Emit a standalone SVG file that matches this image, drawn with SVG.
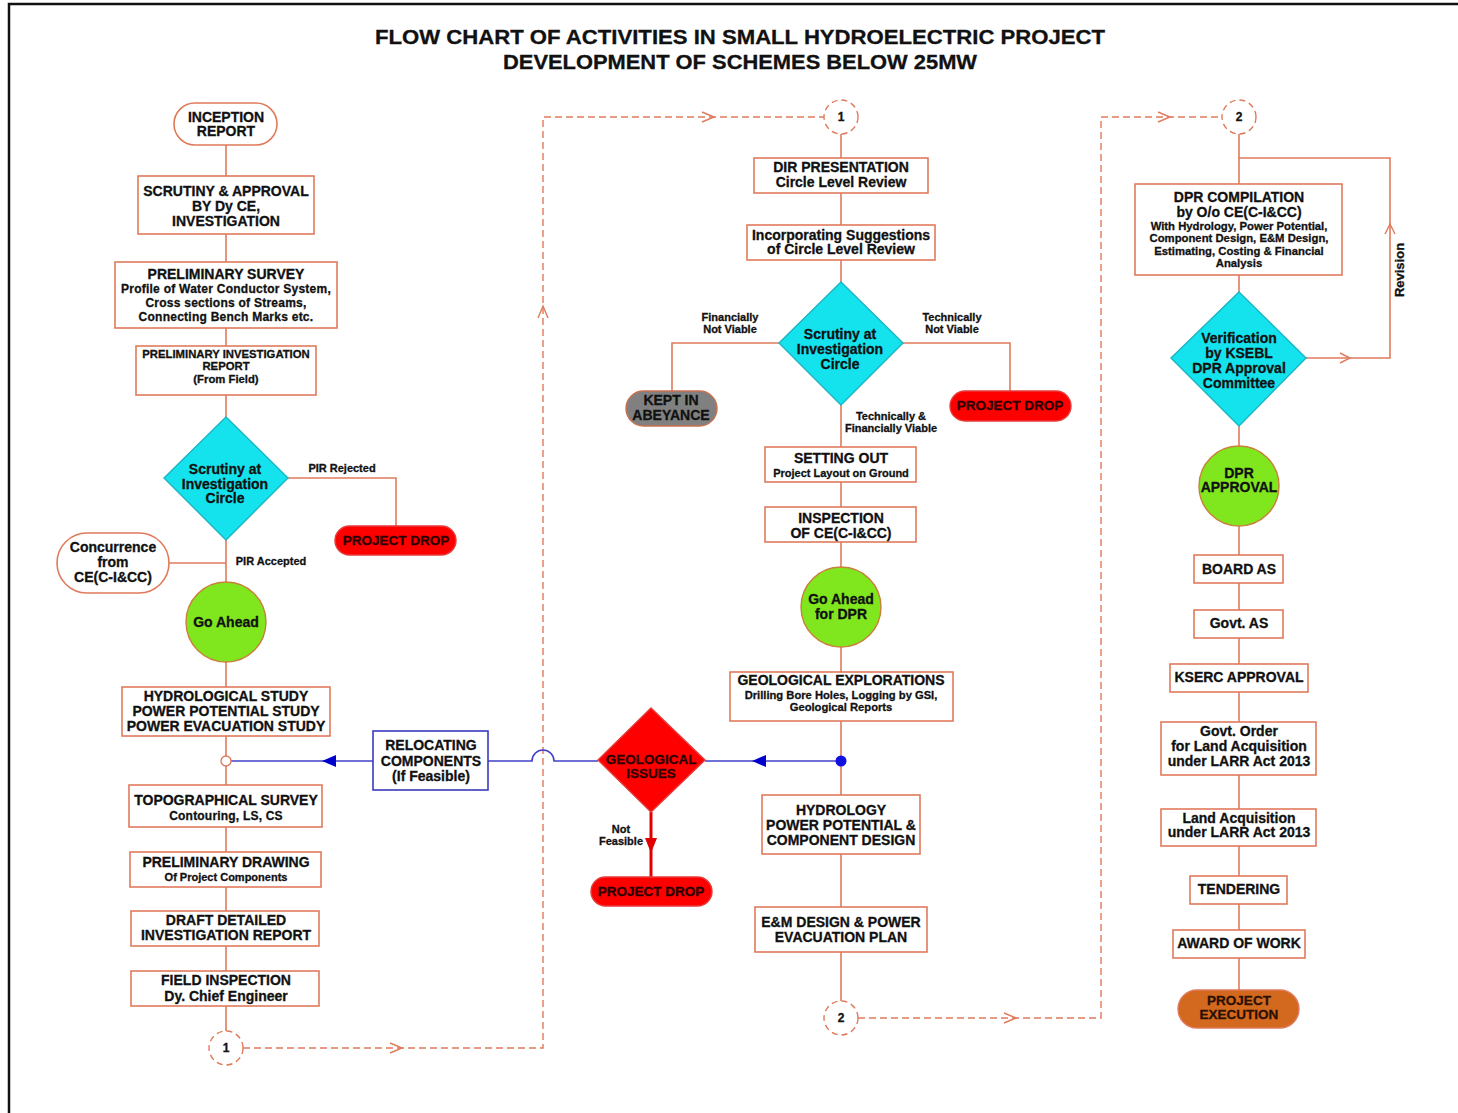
<svg xmlns="http://www.w3.org/2000/svg" width="1458" height="1113" viewBox="0 0 1458 1113">
<defs>
<style>
.t{font-family:"Liberation Sans",Arial,sans-serif;font-weight:bold;text-anchor:middle;fill:#111;stroke:#111;stroke-width:0.3}
.f14{font-size:14px}.f13{font-size:13.5px}.fd{font-size:14px}.f11{font-size:11px}.f10{font-size:10.5px}.f12{font-size:12px}
.box{fill:#fff;stroke:#E07A5C;stroke-width:1.6}
.bbox{fill:#fff;stroke:#3A3AC0;stroke-width:1.6}
.ln{fill:none;stroke:#E07A5C;stroke-width:1.6}
.dash{fill:none;stroke:#E07A5C;stroke-width:1.4;stroke-dasharray:7 4}
.chev{fill:none;stroke:#E07A5C;stroke-width:1.4}
.blue{fill:none;stroke:#4040C8;stroke-width:1.6}
.dia{fill:#14E3EE;stroke:#1BB5C4;stroke-width:1.4}
.grn{fill:#80E61E;stroke:#C8803A;stroke-width:1.4}
.red{fill:#FF0000;stroke:#E83A3A;stroke-width:1.4}
.conn{fill:#fff;stroke:#E07A5C;stroke-width:1.4;stroke-dasharray:6 4}
.dk{fill:#2A0000;stroke:#2A0000}
</style>
</defs>
<rect x="0" y="0" width="1458" height="1113" fill="#fff"/>
<path d="M9,1113 V4 H1458" fill="none" stroke="#111" stroke-width="2.5"/>

<g id="title">
<text class="t" x="740" y="44" font-size="21" stroke-width="0.5" textLength="730" lengthAdjust="spacingAndGlyphs">FLOW CHART OF ACTIVITIES IN SMALL HYDROELECTRIC PROJECT</text>
<text class="t" x="740" y="69" font-size="21" stroke-width="0.5" textLength="474" lengthAdjust="spacingAndGlyphs">DEVELOPMENT OF SCHEMES BELOW 25MW</text>
</g>

<g id="connectors">
<!-- left column -->
<path class="ln" d="M226,145V176 M226,234V262 M226,328V346 M226,395V417 M226,540V582 M226,662V687 M226,736V756 M226,766V785 M226,827V852 M226,887V911 M226,946V971 M226,1006V1031"/>
<path class="ln" d="M288,478H396V526"/>
<path class="ln" d="M169,563H226"/>
<!-- middle column -->
<path class="ln" d="M841,134V158 M841,193V225 M841,260V282 M841,405V447 M841,482V507 M841,542V567 M841,647V672 M841,721V795 M841,854V907 M841,952V1001"/>
<path class="ln" d="M779,343H672V391"/>
<path class="ln" d="M903,343H1010V391"/>
<!-- right column -->
<path class="ln" d="M1239,134V184 M1239,275V292 M1239,426V446 M1239,526V555 M1239,583V610 M1239,638V664 M1239,692V722 M1239,775V809 M1239,846V876 M1239,904V930 M1239,958V990"/>
<path class="ln" d="M1306,358H1390V158H1239"/>
<path class="chev" d="M1340,353L1350,358L1340,363"/>
<path class="chev" d="M1385,234L1390,224L1395,234"/>
<text class="t" font-size="13" x="1404" y="270" transform="rotate(-90 1404 270)">Revision</text>
<!-- dashed off-page links -->
<path class="dash" d="M243,1048H543V117H824"/>
<path class="chev" d="M390,1043L402,1048L390,1053"/>
<path class="chev" d="M538,318L543,306L548,318"/>
<path class="chev" d="M702,112L714,117L702,122"/>
<path class="dash" d="M858,1018H1101V117H1222"/>
<path class="chev" d="M1004,1013L1016,1018L1004,1023"/>
<path class="chev" d="M1158,112L1170,117L1158,122"/>
<!-- blue geological issue path -->
<path class="blue" d="M231,761H373"/>
<polygon points="322,761 336,755 336,767" fill="#0000CC"/>
<path class="blue" d="M488,761H532A11,11 0 0 1 554,761H598"/>
<path class="blue" d="M705,761H836"/>
<polygon points="752,761 766,755 766,767" fill="#0000CC"/>
<path d="M651,812V877" fill="none" stroke="#E00000" stroke-width="3"/>
<polygon points="651,853 645,838 657,838" fill="#E00000"/>
<!-- labels -->
<text class="t f11" x="342" y="472">PIR Rejected</text>
<text class="t f11" x="271" y="565">PIR Accepted</text>
<text class="t f11" x="730" y="321">Financially</text>
<text class="t f11" x="730" y="333">Not Viable</text>
<text class="t f11" x="952" y="321">Technically</text>
<text class="t f11" x="952" y="333">Not Viable</text>
<text class="t f11" x="891" y="420">Technically &amp;</text>
<text class="t f11" x="891" y="432">Financially Viable</text>
<text class="t f11" x="621" y="833">Not</text>
<text class="t f11" x="621" y="845">Feasible</text>
</g>

<!-- LEFT COLUMN -->
<g id="inception"><rect class="box" x="174" y="103" width="103" height="42" rx="21"/>
<text class="t f14" x="226" y="122">INCEPTION</text><text class="t f14" x="226" y="136">REPORT</text></g>
<g id="scrutiny-approval"><rect class="box" x="138" y="176" width="176" height="58"/>
<text class="t f14" x="226" y="196">SCRUTINY &amp; APPROVAL</text><text class="t f14" x="226" y="211">BY Dy CE,</text><text class="t f14" x="226" y="226">INVESTIGATION</text></g>
<g id="prelim-survey"><rect class="box" x="115" y="262" width="222" height="66"/>
<text class="t f14" x="226" y="279">PRELIMINARY SURVEY</text>
<text class="t" font-size="12" letter-spacing="0.25" x="226" y="293">Profile of Water Conductor System,</text>
<text class="t" font-size="12" letter-spacing="0.25" x="226" y="307">Cross sections of Streams,</text>
<text class="t" font-size="12" letter-spacing="0.25" x="226" y="321">Connecting Bench Marks etc.</text></g>
<g id="pir"><rect class="box" x="136" y="346" width="180" height="49"/>
<text class="t" font-size="11.3" x="226" y="358">PRELIMINARY INVESTIGATION</text><text class="t" font-size="11.3" x="226" y="370">REPORT</text><text class="t" font-size="11.3" x="226" y="383">(From Field)</text></g>
<g id="scrutiny-1"><polygon class="dia" points="226,417 288,478 226,540 164,478"/>
<text class="t fd" x="225" y="474">Scrutiny at</text><text class="t fd" x="225" y="489">Investigation</text><text class="t fd" x="225" y="503">Circle</text></g>
<g id="drop-1"><rect class="red" x="335" y="526" width="121" height="29" rx="14.5"/>
<text class="t f13 dk" x="396" y="545">PROJECT DROP</text></g>
<g id="concurrence"><rect class="box" x="57" y="533" width="112" height="60" rx="30"/>
<text class="t f14" x="113" y="552">Concurrence</text><text class="t f14" x="113" y="567">from</text><text class="t f14" x="113" y="582">CE(C-I&amp;CC)</text></g>
<g id="go-ahead"><circle class="grn" cx="226" cy="622" r="40"/>
<text class="t fd" x="226" y="627">Go Ahead</text></g>
<g id="hydro-study"><rect class="box" x="122" y="687" width="208" height="49"/>
<text class="t f14" x="226" y="701">HYDROLOGICAL STUDY</text><text class="t f14" x="226" y="716">POWER POTENTIAL STUDY</text><text class="t f14" x="226" y="731">POWER EVACUATION STUDY</text></g>
<g id="junction"><circle cx="226" cy="761" r="5" fill="#fff" stroke="#E07A5C" stroke-width="1.4"/></g>
<g id="relocating"><rect class="bbox" x="373" y="731" width="115" height="59"/>
<text class="t fd" x="431" y="750">RELOCATING</text><text class="t fd" x="431" y="766">COMPONENTS</text><text class="t fd" x="431" y="781">(If Feasible)</text></g>
<g id="topo"><rect class="box" x="129" y="785" width="193" height="42"/>
<text class="t f14" x="226" y="805">TOPOGRAPHICAL SURVEY</text><text class="t" font-size="12" letter-spacing="0.2" x="226" y="820">Contouring, LS, CS</text></g>
<g id="prelim-drawing"><rect class="box" x="130" y="852" width="191" height="35"/>
<text class="t f14" x="226" y="867">PRELIMINARY DRAWING</text><text class="t" font-size="11" x="226" y="881">Of Project Components</text></g>
<g id="draft-dir"><rect class="box" x="131" y="911" width="188" height="35"/>
<text class="t f14" x="226" y="925">DRAFT DETAILED</text><text class="t f14" x="226" y="940">INVESTIGATION REPORT</text></g>
<g id="field-inspection"><rect class="box" x="131" y="971" width="188" height="35"/>
<text class="t f14" x="226" y="985">FIELD INSPECTION</text><text class="t f14" x="226" y="1001">Dy. Chief Engineer</text></g>
<g id="conn-1a"><circle class="conn" cx="226" cy="1048" r="17"/><text class="t f12" x="226" y="1052">1</text></g>

<!-- MIDDLE COLUMN -->
<g id="conn-1b"><circle class="conn" cx="841" cy="117" r="17"/><text class="t f12" x="841" y="121">1</text></g>
<g id="dir-presentation"><rect class="box" x="754" y="158" width="174" height="35"/>
<text class="t f14" x="841" y="172">DIR PRESENTATION</text><text class="t f14" x="841" y="187">Circle Level Review</text></g>
<g id="incorporating"><rect class="box" x="747" y="225" width="188" height="35"/>
<text class="t f14" x="841" y="240">Incorporating Suggestions</text><text class="t f14" x="841" y="254">of Circle Level Review</text></g>
<g id="scrutiny-2"><polygon class="dia" points="841,282 903,343 841,405 779,343"/>
<text class="t fd" x="840" y="339">Scrutiny at</text><text class="t fd" x="840" y="354">Investigation</text><text class="t fd" x="840" y="369">Circle</text></g>
<g id="abeyance"><rect x="626" y="391" width="91" height="35" rx="17.5" fill="#808080" stroke="#C87050" stroke-width="1.4"/>
<text class="t fd" x="671" y="405">KEPT IN</text><text class="t fd" x="671" y="420">ABEYANCE</text></g>
<g id="drop-2"><rect class="red" x="950" y="391" width="121" height="30" rx="15"/>
<text class="t f13 dk" x="1010" y="410">PROJECT DROP</text></g>
<g id="setting-out"><rect class="box" x="765" y="447" width="151" height="35"/>
<text class="t f14" x="841" y="463">SETTING OUT</text><text class="t" font-size="11" x="841" y="477">Project Layout on Ground</text></g>
<g id="inspection-ce"><rect class="box" x="765" y="507" width="151" height="35"/>
<text class="t f14" x="841" y="523">INSPECTION</text><text class="t f14" x="841" y="538">OF CE(C-I&amp;CC)</text></g>
<g id="go-ahead-dpr"><circle class="grn" cx="841" cy="607" r="40"/>
<text class="t fd" x="841" y="604">Go Ahead</text><text class="t fd" x="841" y="619">for DPR</text></g>
<g id="geo-explorations"><rect class="box" x="730" y="672" width="223" height="49"/>
<text class="t f14" x="841" y="685">GEOLOGICAL EXPLORATIONS</text>
<text class="t" font-size="11.2" x="841" y="699">Drilling Bore Holes, Logging by GSI,</text>
<text class="t" font-size="11.2" x="841" y="711">Geological Reports</text></g>
<g id="blue-dot"><circle cx="841" cy="761" r="5.5" fill="#1010E0"/></g>
<g id="geo-issues"><polygon class="red" points="651,708 705,760 651,812 598,760"/>
<text class="t f13 dk" x="651" y="764">GEOLOGICAL</text><text class="t f13 dk" x="651" y="778">ISSUES</text></g>
<g id="drop-3"><rect class="red" x="591" y="877" width="121" height="29" rx="14.5"/>
<text class="t f13 dk" x="651" y="896">PROJECT DROP</text></g>
<g id="hydrology-design"><rect class="box" x="762" y="795" width="158" height="59"/>
<text class="t f14" x="841" y="815">HYDROLOGY</text><text class="t f14" x="841" y="830">POWER POTENTIAL &amp;</text><text class="t f14" x="841" y="845">COMPONENT DESIGN</text></g>
<g id="em-design"><rect class="box" x="755" y="907" width="172" height="45"/>
<text class="t f14" x="841" y="927">E&amp;M DESIGN &amp; POWER</text><text class="t f14" x="841" y="942">EVACUATION PLAN</text></g>
<g id="conn-2a"><circle class="conn" cx="841" cy="1018" r="17"/><text class="t f12" x="841" y="1022">2</text></g>

<!-- RIGHT COLUMN -->
<g id="conn-2b"><circle class="conn" cx="1239" cy="117" r="17"/><text class="t f12" x="1239" y="121">2</text></g>
<g id="dpr-compilation"><rect class="box" x="1135" y="184" width="207" height="91"/>
<text class="t f14" x="1239" y="202">DPR COMPILATION</text><text class="t f14" x="1239" y="217">by O/o CE(C-I&amp;CC)</text>
<text class="t" font-size="11.3" x="1239" y="230">With Hydrology, Power Potential,</text>
<text class="t" font-size="11.3" x="1239" y="242">Component Design, E&amp;M Design,</text>
<text class="t" font-size="11.3" x="1239" y="255">Estimating, Costing &amp; Financial</text>
<text class="t" font-size="11.3" x="1239" y="267">Analysis</text></g>
<g id="verification"><polygon class="dia" points="1239,292 1306,358 1239,426 1171,358"/>
<text class="t fd" x="1239" y="343">Verification</text><text class="t fd" x="1239" y="358">by KSEBL</text><text class="t fd" x="1239" y="373">DPR Approval</text><text class="t fd" x="1239" y="388">Committee</text></g>
<g id="dpr-approval"><circle class="grn" cx="1239" cy="486" r="40"/>
<text class="t fd" x="1239" y="478">DPR</text><text class="t fd" x="1239" y="492">APPROVAL</text></g>
<g id="board-as"><rect class="box" x="1194" y="555" width="89" height="28"/><text class="t f14" x="1239" y="574">BOARD AS</text></g>
<g id="govt-as"><rect class="box" x="1194" y="610" width="89" height="28"/><text class="t f14" x="1239" y="628">Govt. AS</text></g>
<g id="kserc"><rect class="box" x="1170" y="664" width="138" height="28"/><text class="t f14" x="1239" y="682">KSERC APPROVAL</text></g>
<g id="govt-order"><rect class="box" x="1161" y="722" width="155" height="53"/>
<text class="t f14" x="1239" y="736">Govt. Order</text><text class="t f14" x="1239" y="751">for Land Acquisition</text><text class="t f14" x="1239" y="766">under LARR Act 2013</text></g>
<g id="land-acq"><rect class="box" x="1161" y="809" width="155" height="37"/>
<text class="t f14" x="1239" y="823">Land Acquisition</text><text class="t f14" x="1239" y="837">under LARR Act 2013</text></g>
<g id="tendering"><rect class="box" x="1190" y="876" width="97" height="28"/><text class="t f14" x="1239" y="894">TENDERING</text></g>
<g id="award"><rect class="box" x="1173" y="930" width="132" height="28"/><text class="t f14" x="1239" y="948">AWARD OF WORK</text></g>
<g id="execution"><rect x="1178" y="990" width="121" height="38" rx="19" fill="#D2691E" stroke="#E07A5C" stroke-width="1.4"/>
<text class="t f13" x="1239" y="1005" style="fill:#2A1000;stroke:#2A1000">PROJECT</text><text class="t f13" x="1239" y="1019" style="fill:#2A1000;stroke:#2A1000">EXECUTION</text></g>
</svg>
